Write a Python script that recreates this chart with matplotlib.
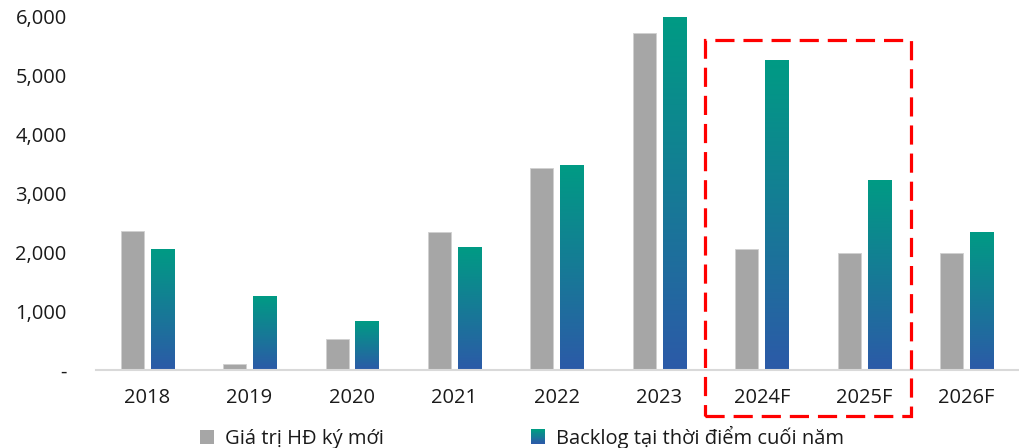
import numpy as np
import matplotlib.pyplot as plt
from matplotlib.patches import Rectangle
from matplotlib.colors import LinearSegmentedColormap
from matplotlib.legend_handler import HandlerBase

plt.rcParams['font.family'] = ['Open Sans', 'DejaVu Sans']

# data
years = ['2018', '2019', '2020', '2021', '2022', '2023', '2024F', '2025F', '2026F']
new_contracts = [2350, 100, 520, 2340, 3430, 5710, 2060, 1980, 1980]
backlog = [2050, 1250, 830, 2080, 3470, 5980, 5250, 3220, 2340]
yticks = [0, 1000, 2000, 3000, 4000, 5000, 6000]
ytick_labels = ['-', '1,000', '2,000', '3,000', '4,000', '5,000', '6,000']

GRAY = '#A6A6A6'
TEAL = '#009B84'
BLUE = '#2C5AA8'
grad = LinearSegmentedColormap.from_list('tealblue', [BLUE, TEAL])

fig = plt.figure(figsize=(10.2, 4.48), dpi=100)
ax = fig.add_axes([0.094, 0.174, 0.904, 0.79])

x = np.arange(len(years))
w = 0.225
off = 0.146

ax.bar(x - off, new_contracts, w, color=GRAY, edgecolor='#D0D0D0', linewidth=0.6, zorder=2)
bars = ax.bar(x + off, backlog, w, color='none', linewidth=0, zorder=2)

# vertical gradient inside each backlog bar
g = np.linspace(0, 1, 256).reshape(-1, 1)
for b in bars:
    x0, y0 = b.get_x(), b.get_y()
    im = ax.imshow(g, extent=[x0, x0 + b.get_width(), y0, y0 + b.get_height()],
                   origin='lower', aspect='auto', cmap=grad, zorder=2)
    im.set_clip_path(b)

ax.set_xlim(-0.5, len(years) - 0.5)
ax.set_ylim(0, 6000)
ax.set_xticks(x)
ax.set_xticklabels(years)
ax.set_yticks(yticks)
ax.set_yticklabels(ytick_labels)
ax.tick_params(axis='x', length=0, pad=13, labelsize=14.5, colors='#1a1a1a')
ax.tick_params(axis='y', length=0, pad=21, labelsize=14.5, colors='#1a1a1a')
for s in ['top', 'right', 'left']:
    ax.spines[s].set_visible(False)
ax.spines['bottom'].set_color('#D9D9D9')
ax.spines['bottom'].set_linewidth(1.5)

# highlight box around the forecast years
ax.add_patch(Rectangle((5.45, -780), 2.005, 6373, fill=False, edgecolor='#FF0000',
                       linewidth=2.3, linestyle=(0, (6, 2.8)), clip_on=False, zorder=5))


class GradientHandler(HandlerBase):
    def create_artists(self, legend, orig_handle, xdescent, ydescent,
                       width, height, fontsize, trans):
        n = 12
        out = []
        for i in range(n):
            out.append(Rectangle((xdescent, ydescent + height * i / n), width, height / n + 0.3,
                                 facecolor=grad(i / (n - 1)), edgecolor='none',
                                 transform=trans))
        return out


h1 = Rectangle((0, 0), 1, 1, facecolor=GRAY, edgecolor='none')
h2 = Rectangle((0, 0), 1, 1, facecolor=TEAL, edgecolor='none')
fig.legend([h1, h2], ['Giá trị HĐ ký mới', 'Backlog tại thời điểm cuối năm'],
           handler_map={h2: GradientHandler()},
           loc='center', bbox_to_anchor=(0.512, 0.024), ncol=2, frameon=False,
           fontsize=14.5, handlelength=0.7, handleheight=0.7, handletextpad=0.55,
           columnspacing=7.3, labelcolor='#1a1a1a')

fig.savefig('out.png', dpi=100)
